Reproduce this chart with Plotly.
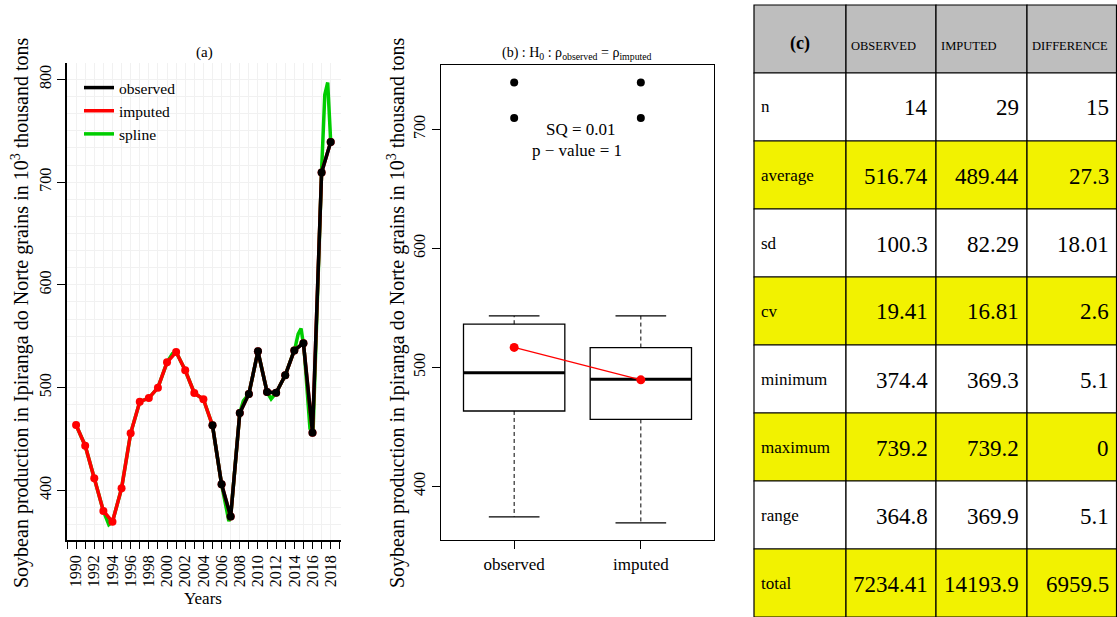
import plotly.graph_objects as go

W, H = 1117, 617
FONT = "Liberation Serif, Times New Roman, serif"

# ---------------- data ----------------
years = [1990, 1991, 1992, 1993, 1994, 1995, 1996, 1997, 1998, 1999,
         2000, 2001, 2002, 2003, 2004, 2005, 2006, 2007, 2008, 2009,
         2010, 2011, 2012, 2013, 2014, 2015, 2016, 2017, 2018]
imputed = [463.5, 443.4, 411.7, 379.9, 369.3, 401.9, 455.5, 486.2, 489.8, 499.9,
           524.6, 534.6, 516.8, 494.7, 488.6, 463.2, 405.8, 374.4, 475.2, 493.7,
           535.3, 495.7, 495.0, 511.9, 536.2, 543.2, 456.1, 709.5, 739.2]
observed_years = [2005, 2006, 2007, 2008, 2009, 2010, 2011, 2012, 2013, 2014,
                  2015, 2016, 2017, 2018]
observed = [463.2, 405.8, 374.4, 475.2, 493.7, 535.3, 495.7, 495.0, 511.9, 536.2,
            543.2, 456.1, 709.5, 739.2]
spline_years = [1990, 1991, 1992, 1993, 1993.6, 1994, 1995, 1996, 1997, 1998, 1999,
                2000, 2000.6, 2001, 2002, 2003, 2004, 2005, 2006, 2006.8, 2007,
                2008, 2008.4, 2009, 2010, 2011, 2011.45, 2012, 2013, 2014.09,
                2014.42, 2014.74, 2015.07, 2015.40, 2015.72, 2016.05, 2016.37,
                2016.70, 2017.02, 2017.35, 2017.67, 2018]
spline_values = [463.5, 443.4, 411.7, 379.9, 366.5, 369.3, 401.9, 455.5, 486.2, 489.8, 499.9,
                 524.6, 533.0, 534.6, 516.8, 494.7, 488.6, 463.2, 405.8, 370.0, 374.4,
                 475.2, 487.0, 493.7, 535.3, 495.7, 489.0, 495.0, 511.9, 539.0,
                 552.0, 557.5, 538.0, 498.0, 460.0, 454.0, 530.0,
                 630.0, 716.0, 785.0, 797.0, 739.2]

box_groups = ["observed", "imputed"]
box_pos = [1, 2]
box_q1 = [463.3, 456.2]
box_median = [495.5, 489.9]
box_q3 = [536.2, 516.6]
box_low = [374.4, 369.3]
box_high = [543.2, 543.2]
box_outliers = [[709.5, 739.2], [709.5, 739.2]]
box_means = [516.74, 489.44]

table_header = ["(c)", "OBSERVED", "IMPUTED", "DIFFERENCE"]
stat_names = ["n", "average", "sd", "cv", "minimum", "maximum", "range", "total"]
observed_stats = ["14", "516.74", "100.3", "19.41", "374.4", "739.2", "364.8", "7234.41"]
imputed_stats = ["29", "489.44", "82.29", "16.81", "369.3", "739.2", "369.9", "14193.9"]
difference_stats = ["15", "27.3", "18.01", "2.6", "5.1", "0", "5.1", "6959.5"]
highlight_rows = ["average", "cv", "maximum", "total"]

# ---------------- helpers ----------------
def px(x):
    return x / W


def py(y):
    return 1 - y / H


def text_at(text, x, y, size, xanchor="center", yanchor="middle", angle=0, **kw):
    return dict(text=text, x=px(x), y=py(y), xref="paper", yref="paper",
                xanchor=xanchor, yanchor=yanchor, textangle=angle, showarrow=False,
                font=dict(family=FONT, size=size, color="black"), **kw)


GREEN = "#00CD00"
RED = "#FF0000"
YLAB = "Soybean production in Ipiranga do Norte grains in 10<sup>3</sup> thousand tons"

fig = go.Figure()

# ---------------- panel (a) ----------------
fig.add_trace(go.Scatter(x=spline_years, y=spline_values, mode="lines", name="spline",
                         line=dict(color=GREEN, width=3.5), legendrank=3,
                         xaxis="x", yaxis="y"))
fig.add_trace(go.Scatter(x=years, y=imputed, mode="lines", name="imputed",
                         line=dict(color=RED, width=3.5), legendrank=2,
                         xaxis="x", yaxis="y"))
fig.add_trace(go.Scatter(x=years, y=imputed, mode="markers", showlegend=False,
                         marker=dict(color=RED, size=8), xaxis="x", yaxis="y"))
fig.add_trace(go.Scatter(x=observed_years, y=observed, mode="lines", name="observed",
                         line=dict(color="black", width=3.5), legendrank=1,
                         xaxis="x", yaxis="y"))
fig.add_trace(go.Scatter(x=observed_years, y=observed, mode="markers", showlegend=False,
                         marker=dict(color="black", size=8), xaxis="x", yaxis="y"))

# ---------------- panel (b) ----------------
for i, g in enumerate(box_groups):
    p = box_pos[i]
    fig.add_trace(go.Box(x=[p], q1=[box_q1[i]], median=[box_median[i]], q3=[box_q3[i]],
                         lowerfence=[box_q1[i]], upperfence=[box_q3[i]],
                         width=0.8, fillcolor="rgba(255,255,255,0)",
                         line=dict(color="black", width=1.3), boxpoints=False,
                         showlegend=False, hoverinfo="skip", xaxis="x2", yaxis="y2"))
    # dashed whiskers
    fig.add_trace(go.Scatter(x=[p, p, None, p, p],
                             y=[box_q3[i], box_high[i], None, box_q1[i], box_low[i]],
                             mode="lines", line=dict(color="black", width=1, dash="4px,3px"),
                             showlegend=False, xaxis="x2", yaxis="y2"))
    # staples
    fig.add_trace(go.Scatter(x=[p - 0.2, p + 0.2, None, p - 0.2, p + 0.2],
                             y=[box_high[i], box_high[i], None, box_low[i], box_low[i]],
                             mode="lines", line=dict(color="black", width=1.3),
                             showlegend=False, xaxis="x2", yaxis="y2"))
    # median
    fig.add_trace(go.Scatter(x=[p - 0.4, p + 0.4], y=[box_median[i], box_median[i]],
                             mode="lines", line=dict(color="black", width=3),
                             showlegend=False, xaxis="x2", yaxis="y2"))
    # outliers
    fig.add_trace(go.Scatter(x=[p] * len(box_outliers[i]), y=box_outliers[i],
                             mode="markers", marker=dict(color="black", size=8),
                             showlegend=False, xaxis="x2", yaxis="y2"))

fig.add_trace(go.Scatter(x=box_pos, y=box_means, mode="lines+markers",
                         line=dict(color=RED, width=1.2), marker=dict(color=RED, size=9),
                         showlegend=False, xaxis="x2", yaxis="y2"))

# ---------------- layout ----------------
tickfont = dict(family=FONT, size=16, color="black")
grid_c = "#f1f1f1"

fig.update_layout(
    width=W, height=H,
    margin=dict(l=0, r=0, t=0, b=0),
    paper_bgcolor="white", plot_bgcolor="white",
    font=dict(family=FONT, color="black"),
    showlegend=True,
    legend=dict(x=px(79), y=py(71), xanchor="left", yanchor="top",
                bgcolor="rgba(0,0,0,0)", font=dict(family=FONT, size=15.5),
                tracegroupgap=0, itemwidth=30),
    xaxis=dict(domain=[px(67), px(340.7)], range=[1989.0, 2019.1],
               tick0=1990, dtick=2, tickangle=-90, ticks="outside", ticklen=7,
               tickcolor="black", tickfont=tickfont,
               showline=True, linecolor="black", linewidth=1.5,
               showgrid=True, gridcolor=grid_c, gridwidth=1, zeroline=False,
               minor=dict(dtick=1, ticks="outside", ticklen=7, tickcolor="black",
                          showgrid=True, gridcolor=grid_c)),
    yaxis=dict(domain=[py(540), py(63)], range=[351.6, 816],
               tick0=0, dtick=100, tickangle=-90, ticks="outside", ticklen=8,
               tickcolor="black", tickfont=tickfont,
               showline=True, linecolor="black", linewidth=1.5,
               showgrid=True, gridcolor=grid_c, gridwidth=1, zeroline=False,
               minor=dict(dtick=100 / 6, showgrid=True, gridcolor=grid_c)),
    xaxis2=dict(domain=[px(440.7), px(714.3)], range=[0.42, 2.58],
                tickvals=box_pos, ticktext=box_groups, ticks="outside", ticklen=8,
                tickcolor="black", tickfont=dict(family=FONT, size=17, color="black"),
                showline=True, mirror=True, linecolor="black", linewidth=1.3,
                showgrid=False, zeroline=False, anchor="y2"),
    yaxis2=dict(domain=[py(540), py(65)], range=[354.9, 754],
                tick0=0, dtick=100, tickangle=-90, ticks="outside", ticklen=8,
                tickcolor="black", tickfont=tickfont,
                showline=True, mirror=True, linecolor="black", linewidth=1.3,
                showgrid=False, zeroline=False, anchor="x2"),
)

ann = []
ann.append(text_at("(a)", 204, 53, 15))
ann.append(text_at("Years", 203, 598, 17))
ann.append(text_at(YLAB, 20, 313, 20, angle=-90))
ann.append(text_at(YLAB, 396, 313, 20, angle=-90))
ann.append(text_at("(b) : H<sub>0</sub> : \u03c1<sub>observed</sub> = \u03c1<sub>imputed</sub>",
                   577, 54, 14))
ann.append(text_at("SQ = 0.01", 581, 129, 17))
ann.append(text_at("p \u2212 value = 1", 577, 150, 17))

# ---------------- table (c) ----------------
col_edges = [754, 846, 936, 1027, 1116.5]
row_top = 5
row_h = 68
shapes = []
columns = [stat_names, observed_stats, imputed_stats, difference_stats]
n_rows = len(stat_names) + 1
for r in range(n_rows):
    y0 = row_top + r * row_h
    y1 = y0 + row_h
    if r == 0:
        fill = "#BEBEBE"
    elif stat_names[r - 1] in highlight_rows:
        fill = "#F2F200"
    else:
        fill = "white"
    for c in range(4):
        shapes.append(dict(type="rect", xref="paper", yref="paper",
                           x0=px(col_edges[c]), x1=px(col_edges[c + 1]),
                           y0=py(y1), y1=py(y0), fillcolor=fill,
                           line=dict(color="black", width=1.2), layer="below"))
        if r == 0:
            if c == 0:
                ann.append(text_at("<b>" + table_header[c] + "</b>",
                                   (col_edges[0] + col_edges[1]) / 2, y0 + 38, 18))
            else:
                ann.append(text_at(table_header[c], col_edges[c] + 3, y0 + 41, 12.5,
                                   xanchor="left"))
        else:
            txt = columns[c][r - 1]
            if c == 0:
                ann.append(text_at(txt, col_edges[c] + 5, y0 + row_h / 2, 17,
                                   xanchor="left"))
            else:
                ann.append(text_at(txt, col_edges[c + 1] - 6, y0 + row_h / 2 + 1, 23,
                                   xanchor="right"))

fig.update_layout(annotations=ann, shapes=shapes)
fig.write_html("out.html")
